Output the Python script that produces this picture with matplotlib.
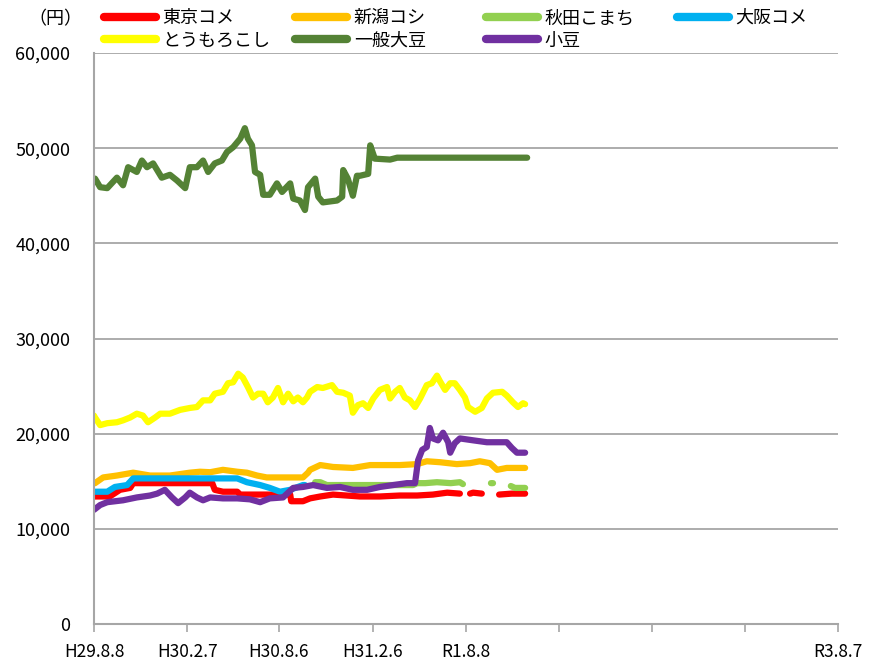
import numpy as np
import matplotlib
matplotlib.use("Agg")
import matplotlib.pyplot as plt
from matplotlib.lines import Line2D

plt.rcParams['font.family'] = ['Noto Sans CJK JP', 'DejaVu Sans']
nan = np.nan

# x values: days since H29.8.8 (2017-08-08)
tick_days = [0, 183, 363, 547, 730, 913, 1095, 1278, 1460]
tick_labels = ['H29.8.8', 'H30.2.7', 'H30.8.6', 'H31.2.6', 'R1.8.8', '', '', '', 'R3.8.7']

# 一般大豆
soy_x = [0, 2, 12, 26, 45, 57, 67, 84, 94, 104, 116, 133, 149, 163, 179, 188, 202, 214, 224, 237, 251, 261, 273,
         287, 296, 302, 310, 316, 326, 332, 345, 359, 369, 385, 391, 404, 414, 420, 434, 440, 449, 477, 487, 489,
         498, 508, 516, 522, 538, 542, 551, 581, 595, 850]
soy_y = [46500, 46800, 45900, 45800, 46900, 46100, 48000, 47500, 48700, 48000, 48400, 46900, 47200, 46600, 45800,
         48000, 48000, 48700, 47500, 48400, 48700, 49600, 50100, 51000, 52100, 51000, 50300, 47500, 47200, 45100,
         45100, 46300, 45400, 46300, 44700, 44500, 43500, 45900, 46800, 44900, 44300, 44500, 44900, 47700, 46800,
         45000, 47100, 47100, 47300, 50300, 48900, 48800, 49000, 49000]

# とうもろこし
corn_x = [0, 2, 12, 26, 45, 57, 71, 84, 96, 106, 120, 130, 149, 169, 188, 202, 214, 228, 237, 253, 263, 273, 283,
          292, 302, 312, 322, 332, 341, 351, 361, 371, 381, 391, 400, 410, 418, 424, 438, 449, 467, 477, 489, 502,
          508, 518, 528, 538, 548, 561, 575, 581, 591, 600, 610, 620, 630, 640, 653, 663, 673, 679, 689, 699, 708,
          718, 728, 734, 748, 761, 771, 783, 801, 810, 822, 832, 842, 846]
corn_y = [21900, 21700, 20900, 21100, 21200, 21400, 21700, 22100, 21900, 21200, 21700, 22100, 22100, 22500, 22700,
          22800, 23500, 23500, 24200, 24400, 25300, 25400, 26300, 25900, 24900, 23800, 24200, 24200, 23300, 23800,
          24800, 23300, 24200, 23400, 23800, 23300, 23800, 24400, 24900, 24800, 25100, 24400, 24300, 24000, 22200,
          23000, 23200, 22700, 23700, 24600, 24900, 23700, 24400, 24800, 23800, 23500, 22800, 23700, 25100, 25300,
          26100, 25500, 24600, 25300, 25300, 24600, 23800, 22800, 22300, 22700, 23700, 24300, 24400, 24000, 23300,
          22800, 23200, 23100]

# 新潟コシ
niigata_x = [0, 2, 18, 45, 77, 110, 149, 188, 208, 228, 253, 281, 300, 320, 339, 410, 420, 424, 444, 469, 508, 542,
             575, 600, 634, 653, 679, 712, 738, 757, 777, 791, 810, 846]
niigata_y = [14800, 14800, 15400, 15600, 15900, 15600, 15600, 15900, 16000, 15950, 16200, 16000, 15900, 15600,
             15400, 15400, 15900, 16200, 16700, 16500, 16400, 16700, 16700, 16700, 16800, 17100, 17000, 16800,
             16900, 17100, 16900, 16200, 16400, 16400]

# 秋田こまち
akita_x = [434, 444, 457, 626, 634, 650, 673, 700, 718, 724, 750, 779, 783, 800, 818, 826, 846]
akita_y = [14900, 14900, 14600, 14600, 14800, 14800, 14900, 14800, 14900, 14700, nan, 14800, 14800, nan, 14500,
           14300, 14300]

# 大阪コメ
osaka_x = [0, 26, 41, 65, 77, 124, 281, 300, 326, 345, 365, 385, 410, 414]
osaka_y = [13900, 13900, 14400, 14600, 15300, 15300, 15300, 14900, 14600, 14300, 13900, 14100, 14600, 14600]

# 東京コメ
tokyo_x = [0, 31, 51, 71, 77, 232, 237, 253, 281, 287, 345, 385, 387, 410, 424, 444, 469, 522, 561, 600, 634, 665,
           693, 718, 722, 738, 744, 761, 775, 795, 820, 846]
tokyo_y = [13400, 13400, 14100, 14300, 14800, 14800, 14100, 13900, 13900, 13600, 13600, 13600, 12900, 12900, 13200,
           13400, 13600, 13400, 13400, 13500, 13500, 13600, 13800, 13700, nan, 13700, 13800, 13700, nan, 13600, 13700,
           13700]

# 小豆
azuki_x = [0, 12, 26, 57, 84, 110, 124, 139, 153, 165, 179, 188, 202, 214, 228, 253, 281, 306, 326, 345, 371, 391,
           410, 430, 457, 483, 508, 536, 561, 587, 614, 630, 636, 644, 653, 659, 665, 675, 685, 695, 699, 708, 718,
           744, 771, 810, 820, 830, 846]
azuki_y = [12000, 12500, 12800, 13000, 13300, 13500, 13700, 14100, 13300, 12700, 13300, 13800, 13300, 13000, 13300,
           13200, 13200, 13100, 12800, 13200, 13300, 14300, 14400, 14600, 14300, 14400, 14100, 14100, 14400, 14600,
           14800, 14800, 17200, 18300, 18600, 20600, 19500, 19300, 20100, 19100, 18000, 19000, 19500, 19300, 19100,
           19100, 18500, 18000, 18000]

series = [
    ('東京コメ', tokyo_x, tokyo_y, '#ff0000'),
    ('新潟コシ', niigata_x, niigata_y, '#ffc000'),
    ('秋田こまち', akita_x, akita_y, '#92d050'),
    ('大阪コメ', osaka_x, osaka_y, '#00b0f0'),
    ('とうもろこし', corn_x, corn_y, '#ffff00'),
    ('一般大豆', soy_x, soy_y, '#548235'),
    ('小豆', azuki_x, azuki_y, '#7030a0'),
]

fig = plt.figure(figsize=(8.69, 6.63), dpi=100)
ax = fig.add_axes([94 / 869, 1 - 624 / 663, (838 - 94) / 869, (624 - 53) / 663])

handles = {}
for name, xs, ys, col in series:
    ln, = ax.plot(xs, ys, color=col, lw=4.5, solid_capstyle='round', solid_joinstyle='round', label=name)
    handles[name] = ln

ax.set_xlim(0, 1460)
ax.set_ylim(0, 60000)
ax.set_yticks(range(0, 60001, 10000))
ax.set_yticklabels([f'{v:,}' for v in range(0, 60001, 10000)], fontsize=13)
ax.set_xticks(tick_days)
ax.set_xticklabels(tick_labels, fontsize=12.5)
ax.tick_params(axis='y', length=0, pad=17)
ax.tick_params(axis='x', length=6, width=1.2, color='#a6a6a6', pad=8)
ax.grid(axis='y', color='#a6a6a6', lw=1.3)
ax.set_axisbelow(True)
for s in ['top', 'right']:
    ax.spines[s].set_visible(False)
for s in ['left', 'bottom']:
    ax.spines[s].set_color('#a6a6a6')
    ax.spines[s].set_linewidth(1.5)

fig.text(28 / 869, 1 - 19 / 663, '（円）', fontsize=13, va='center', ha='left')

cols = [
    ['東京コメ', 'とうもろこし'],
    ['新潟コシ', '一般大豆'],
    ['秋田こまち', '小豆'],
    ['大阪コメ'],
]
xpos = [104, 295, 486, 677]
for names, xp in zip(cols, xpos):
    hs = [Line2D([], [], color=handles[n].get_color(), lw=6, solid_capstyle='round') for n in names]
    leg = fig.legend(hs, names, loc='upper left', bbox_to_anchor=(xp / 869, 1 - 9 / 663),
                     frameon=False, fontsize=13, handlelength=2.9, handletextpad=0.35,
                     labelspacing=0.25, borderaxespad=0, borderpad=0)

fig.savefig('out.png', dpi=100)
